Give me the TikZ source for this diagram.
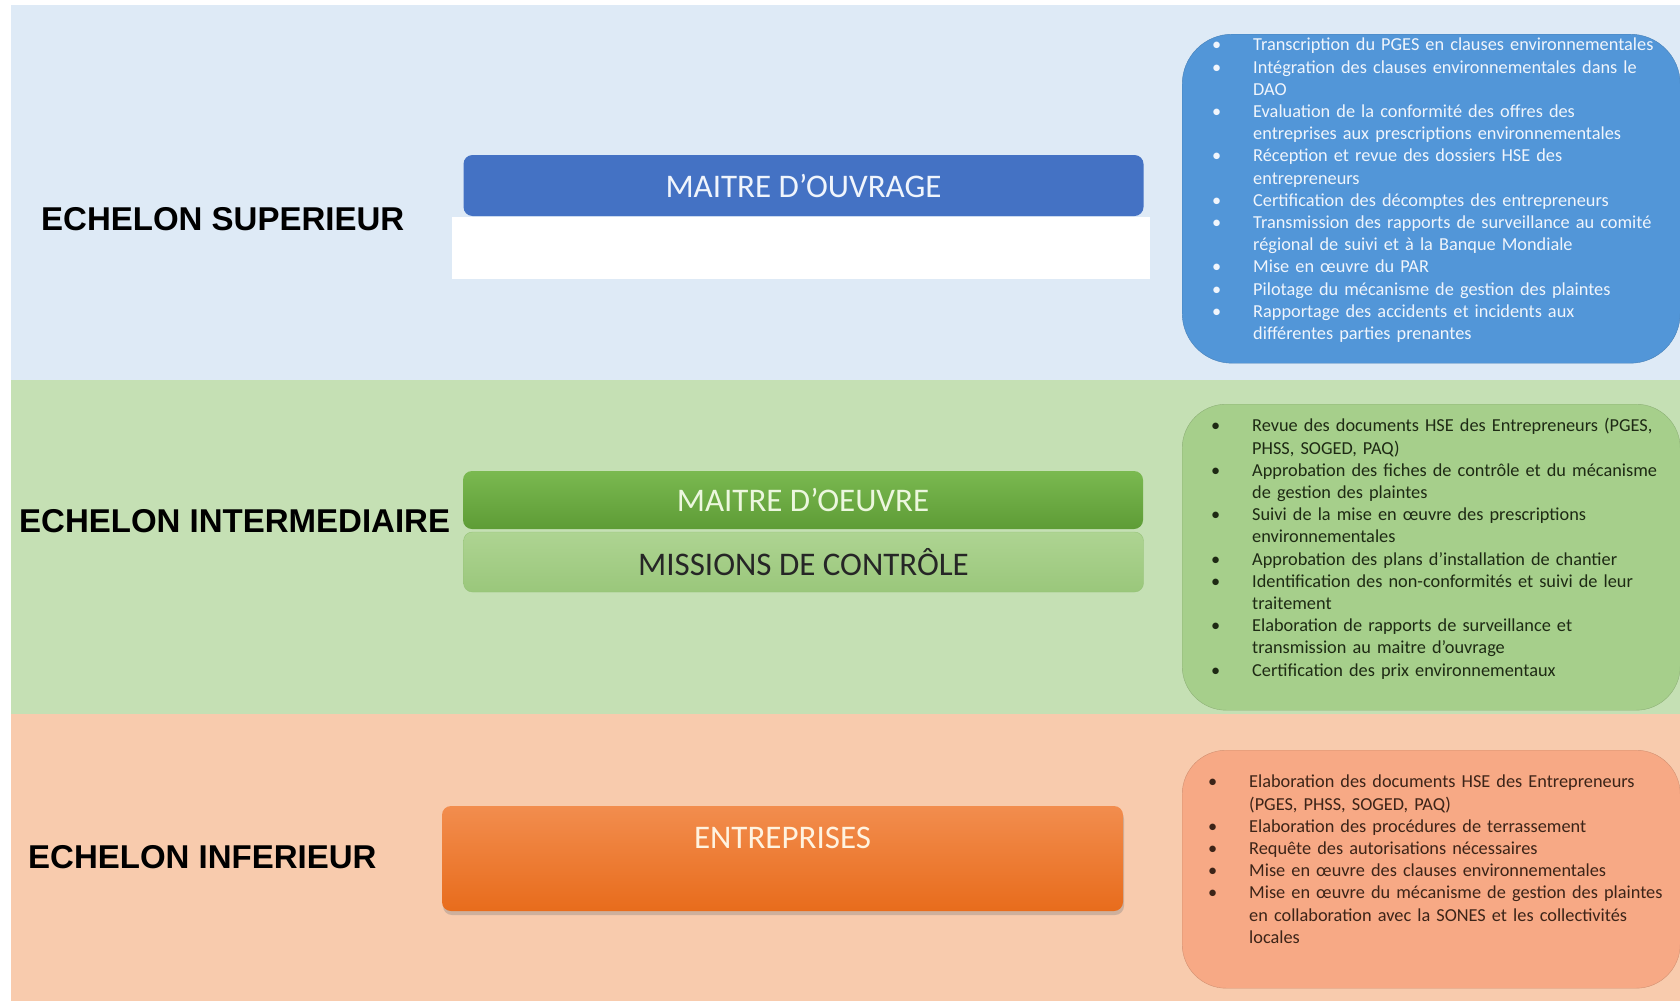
\documentclass[tikz,border=0pt]{standalone}
\usepackage{fontspec}
\setmainfont{Carlito}
\newfontfamily\echfont{Liberation Sans}
\usepackage{xcolor}
\usetikzlibrary{positioning, shadows}

\definecolor{bandeBleu}{HTML}{DEEAF6}
\definecolor{bandeVert}{HTML}{C5E0B4}
\definecolor{bandeOrange}{HTML}{F8CBAD}
\definecolor{bleuMO}{HTML}{4472C4}
\definecolor{bleuListe}{HTML}{5296D8}
\definecolor{vertListe}{HTML}{A6CF8B}
\definecolor{orangeListe}{HTML}{F7A985}
\definecolor{texteClair}{HTML}{F0F5FC}

% bullet with hanging indent
\newcommand{\puce}{\par\noindent\hangindent=41pt\hangafter=1\makebox[41pt][l]{\textbullet}}

\begin{document}
\begin{tikzpicture}[x=1pt, y=-1pt,
  echelon/.style={anchor=west, inner sep=0pt, font=\echfont\bfseries\fontsize{33}{40}\selectfont},
  titre/.style={rounded corners=9pt, minimum width=680pt, inner sep=0pt, font=\fontsize{33}{38}\selectfont},
  cadre/.style={anchor=north west, inner sep=0pt, minimum width=498pt},
  liste/.style={anchor=north west, inner sep=0pt, text width=480pt, align=left, font=\fontsize{18.3}{22.2}\selectfont}]
\useasboundingbox (0,0) rectangle (1680,1001);
\fill[white] (0,0) rectangle (1680,1001);

% les trois echelons
\fill[bandeBleu] (11,5) rectangle (1680,380);
\fill[bandeVert] (11,380) rectangle (1680,714);
\fill[bandeOrange] (11,714) rectangle (1680,1001);

\node[echelon] (sup) at (41,219) {ECHELON SUPERIEUR};
\node[echelon] (inter) at (19,521) {ECHELON INTERMEDIAIRE};
\node[echelon] (inf) at (28,857) {ECHELON INFERIEUR};

% acteurs
\node[titre, fill=bleuMO, text=texteClair, minimum height=61pt] (mo) at (803.5,185.5) {MAITRE D’OUVRAGE};
\fill[white] (452,217) rectangle (1150,279);
\node[titre, top color={rgb,255:red,122;green,185;blue,80}, bottom color={rgb,255:red,94;green,156;blue,54}, text={rgb,255:red,236;green,247;blue,222}, minimum height=58pt] (moe) at (803,500) {MAITRE D’OEUVRE};
\node[titre, top color={rgb,255:red,174;green,212;blue,146}, bottom color={rgb,255:red,154;green,199;blue,123}, draw={rgb,255:red,150;green,195;blue,120}, text=black!85, minimum height=60pt] (mdc) at (803.5,562) {MISSIONS DE CONTRÔLE};
\node[titre, top color={rgb,255:red,242;green,141;blue,78}, bottom color={rgb,255:red,232;green,108;blue,28}, text={rgb,255:red,255;green,243;blue,224}, minimum width=681pt, minimum height=105pt, text height=22pt, text depth=43pt, drop shadow={shadow xshift=1pt, shadow yshift=-4pt, opacity=.35}] (ent) at (782.5,858.5) {ENTREPRISES};

% taches
\node[cadre, fill=bleuListe, draw=bleuListe!85!black, rounded corners=50pt, minimum height=329pt] (boiteMO) at (1182,34) {};
\node[liste, text=texteClair] (tachesMO) at (1212,28.5) {%
\puce Transcription du PGES en clauses environnementales
\puce Intégration des clauses environnementales dans le\newline DAO
\puce Evaluation de la conformité des offres des\newline entreprises aux prescriptions environnementales
\puce Réception et revue des dossiers HSE des\newline entrepreneurs
\puce Certification des décomptes des entrepreneurs
\puce Transmission des rapports de surveillance au comité\newline régional de suivi et à la Banque Mondiale
\puce Mise en œuvre du PAR
\puce Pilotage du mécanisme de gestion des plaintes
\puce Rapportage des accidents et incidents aux\newline différentes parties prenantes\par};

\node[cadre, fill=vertListe, draw=vertListe!85!black, rounded corners=44pt, minimum height=306pt] (boiteMOE) at (1182,404) {};
\node[liste, text={rgb,255:red,30;green,42;blue,20}] (tachesMOE) at (1211,409.5) {%
\puce Revue des documents HSE des Entrepreneurs (PGES,\newline PHSS, SOGED, PAQ)
\puce Approbation des fiches de contrôle et du mécanisme\newline de gestion des plaintes
\puce Suivi de la mise en œuvre des prescriptions\newline environnementales
\puce Approbation des plans d’installation de chantier
\puce Identification des non-conformités et suivi de leur\newline traitement
\puce Elaboration de rapports de surveillance et\newline transmission au maitre d’ouvrage
\puce Certification des prix environnementaux\par};

\node[cadre, fill=orangeListe, draw=orangeListe!85!black, rounded corners=44pt, minimum height=238pt] (boiteEnt) at (1182,750) {};
\node[liste, text={rgb,255:red,60;green,36;blue,24}] (tachesEnt) at (1208,765.5) {%
\puce Elaboration des documents HSE des Entrepreneurs\newline (PGES, PHSS, SOGED, PAQ)
\puce Elaboration des procédures de terrassement
\puce Requête des autorisations nécessaires
\puce Mise en œuvre des clauses environnementales
\puce Mise en œuvre du mécanisme de gestion des plaintes\newline en collaboration avec la SONES et les collectivités\newline locales\par};
\end{tikzpicture}
\end{document}
